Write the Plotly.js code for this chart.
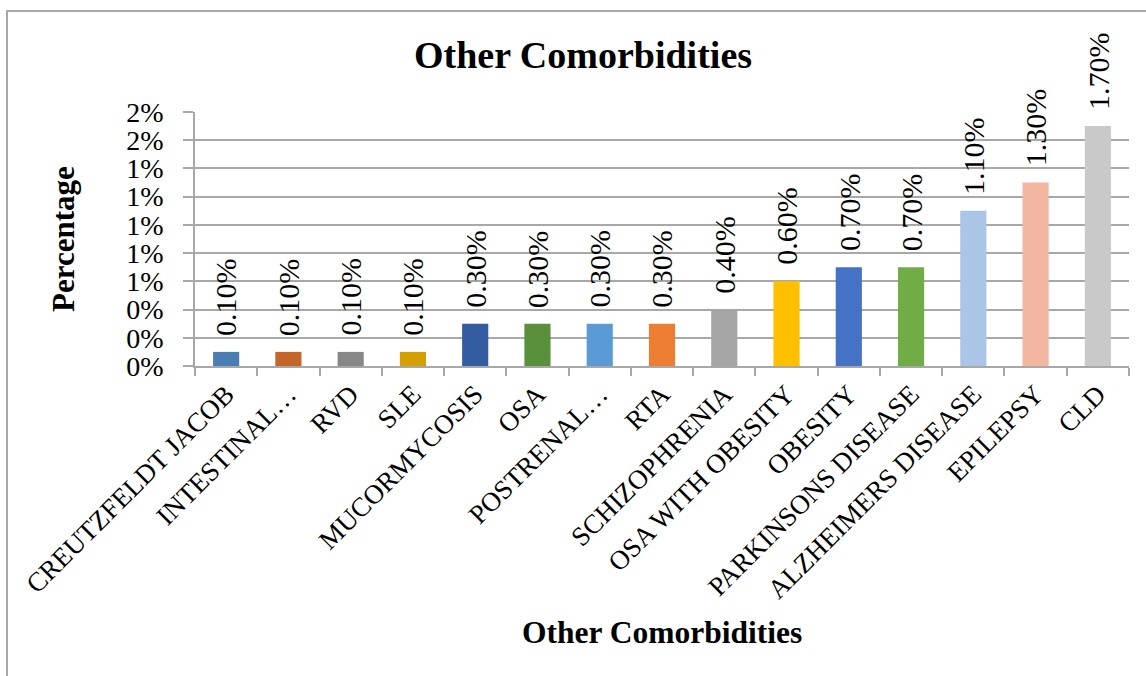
<!DOCTYPE html>
<html>
<head>
<meta charset="utf-8">
<script src="https://cdn.plot.ly/plotly-3.0.1.min.js"></script>
<style>
  html, body { margin: 0; padding: 0; background: #ffffff; }
  #chart { width: 1146px; height: 676px; }
</style>
</head>
<body>
<div id="chart"></div>
<script>
// Share of patients with each comorbidity (percent)
const categories = [
  'CREUTZFELDT JACOB', 'INTESTINAL…', 'RVD', 'SLE', 'MUCORMYCOSIS', 'OSA',
  'POSTRENAL…', 'RTA', 'SCHIZOPHRENIA', 'OSA WITH OBESITY', 'OBESITY',
  'PARKINSONS DISEASE', 'ALZHEIMERS DISEASE', 'EPILEPSY', 'CLD'
];
const values = [0.1, 0.1, 0.1, 0.1, 0.3, 0.3, 0.3, 0.3, 0.4, 0.6, 0.7, 0.7, 1.1, 1.3, 1.7];
const barColors = [
  '#4A7EB3', '#C4652A', '#878787', '#D4A000', '#345CA0', '#5A8F3C',
  '#5B9BD5', '#ED7D31', '#A5A5A5', '#FFC000', '#4472C4', '#70AD47',
  '#ABC5E6', '#F3B6A1', '#C9C9C9'
];
const chartTitle = 'Other Comorbidities';
const xTitle = 'Other Comorbidities';
const yTitle = 'Percentage';

const W = 1146, H = 676;
const margin = { l: 195, r: 17, t: 112, b: 310 };
const plotW = W - margin.l - margin.r;
const plotH = H - margin.t - margin.b;
const serif = '"Liberation Serif", "Times New Roman", serif';
const gridColor = '#A8A8A8';

// pixel row -> paper y, pixel column -> paper x
const py = p => (H - margin.b - p) / plotH;
const px = p => (p - margin.l) / plotW;

const bars = {
  type: 'bar',
  x: categories,
  y: values,
  width: 0.42,
  marker: { color: barColors, line: { width: 0 } },
  hovertemplate: '%{x}: %{y:.2f}%<extra></extra>'
};

// vertical value labels above each bar
const valueLabels = categories.map((c, i) => ({
  x: c, y: values[i], xref: 'x', yref: 'y',
  text: values[i].toFixed(2) + '%',
  textangle: -90,
  showarrow: false,
  xanchor: 'center', yanchor: 'bottom',
  yshift: 14,
  font: { family: serif, size: 30, color: '#000000' }
}));

const xTitleAnn = {
  xref: 'paper', yref: 'paper',
  x: 0.5, y: py(632),
  text: xTitle, showarrow: false,
  xanchor: 'center', yanchor: 'middle',
  font: { family: serif, size: 31.5, color: '#000000', weight: 'bold' }
};

const layout = {
  width: W, height: H,
  margin: margin,
  paper_bgcolor: '#ffffff',
  plot_bgcolor: '#ffffff',
  showlegend: false,
  bargap: 0.58,
  title: {
    text: chartTitle,
    x: 583 / W, xanchor: 'center',
    y: 1 - 55 / H, yanchor: 'middle',
    font: { family: serif, size: 38, color: '#000000', weight: 'bold' }
  },
  xaxis: {
    type: 'category',
    tickangle: -45,
    tickfont: { family: serif, size: 27, color: '#000000' },
    ticks: 'outside', tickson: 'boundaries', ticklen: 8,
    tickcolor: gridColor, tickwidth: 1.5,
    showline: true, linecolor: gridColor, linewidth: 1.5,
    showgrid: false, zeroline: false,
    automargin: false
  },
  yaxis: {
    range: [0, 1.8],
    tick0: 0, dtick: 0.2,
    tickformat: '.0f', ticksuffix: '%',
    tickfont: { family: serif, size: 28, color: '#000000' },
    ticks: 'outside', ticklen: 10, tickcolor: gridColor, tickwidth: 1.5,
    ticklabelstandoff: 14,
    showgrid: true, gridcolor: gridColor, gridwidth: 1.5,
    showline: true, linecolor: gridColor, linewidth: 1.5,
    zeroline: false,
    automargin: false,
    title: {
      text: yTitle, standoff: 42,
      font: { family: serif, size: 31, color: '#000000', weight: 'bold' }
    }
  },
  annotations: valueLabels.concat([xTitleAnn]),
  shapes: [{
    type: 'rect', xref: 'paper', yref: 'paper', layer: 'below',
    x0: px(7), x1: px(W + 20), y0: py(H + 20), y1: py(11),
    line: { color: '#A8A8A8', width: 2 }, fillcolor: 'rgba(0,0,0,0)'
  }]
};

Plotly.newPlot('chart', [bars], layout, { displayModeBar: false, responsive: false });
</script>
</body>
</html>
